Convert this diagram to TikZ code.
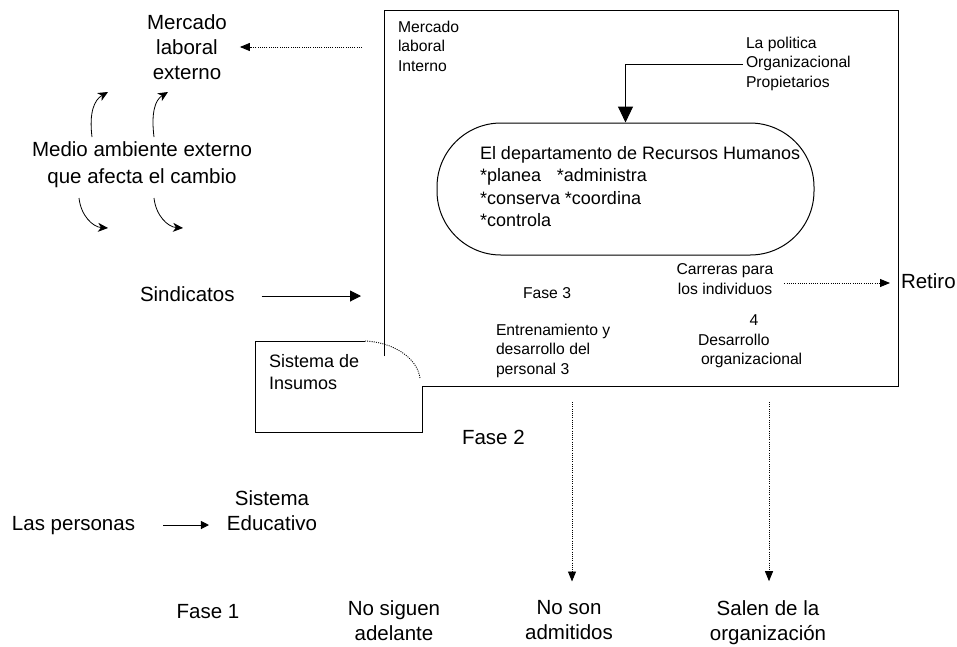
\documentclass[tikz,border=0pt]{standalone}
\usepackage{fontspec}
\setmainfont{Liberation Sans}
\usetikzlibrary{arrows.meta}
\newcommand{\fsBig}{\fontsize{20.5}{25}\selectfont}
\newcommand{\fsMid}{\fontsize{18}{22.5}\selectfont}
\newcommand{\fsSmall}{\fontsize{15.7}{19.5}\selectfont}
\begin{document}
\begin{tikzpicture}[x=1pt,y=-1pt,
  txt/.style={inner sep=0pt, outer sep=0pt},
  bigtxt/.style={txt, font=\fsBig},
  midtxt/.style={txt, font=\fsMid},
  smalltxt/.style={txt, font=\fsSmall},
  frame/.style={line width=1pt},
  dotline/.style={line width=0.9pt, dash pattern=on 1pt off 1.2pt},
  solidarrow/.style={line width=1pt, -{Triangle[length=11pt,width=11pt]}},
  smallarrow/.style={line width=1pt, -{Triangle[length=8pt,width=8pt]}},
  bigarrow/.style={line width=1pt, -{Triangle[length=16pt,width=15pt]}},
  dotarrow/.style={dotline, -{Triangle[length=10pt,width=8pt]}},
  bendarrow/.style={line width=0.8pt, -{Stealth[length=10pt,width=9pt,inset=3pt]}}
]
\useasboundingbox (0,0) rectangle (957,646);
\fill[white] (0,0) rectangle (957,646);

% organisation frame
\draw[frame] (384,356) -- (384,10) -- (898,10) -- (898,386) -- (422,386);

% input system block with its dotted corner
\draw[frame] (365,341) -- (255,341) -- (255,432) -- (422,432) -- (422,386);
\draw[dotline] (365,341) .. controls (392,342) and (417,357) .. (420,378);
\node[midtxt, align=left, anchor=west] (ins) at (269,374) {\strut Sistema de\\Insumos\strut};

% external environment
\node[bigtxt, align=center] (ext) at (187,49) {\strut Mercado\\laboral\\externo\strut};
\node[bigtxt, align=center] (medio) at (142,164) {\fontsize{20.5}{27.5}\selectfont\strut Medio ambiente externo\\que afecta el cambio\strut};
\node[bigtxt, anchor=west] (sind) at (140,296) {\strut Sindicatos};

\coordinate (c1a) at (92,137);  \coordinate (c1b) at (108,92);
\coordinate (c2a) at (154,137); \coordinate (c2b) at (168,92);
\coordinate (c3a) at (79,198);  \coordinate (c3b) at (108,228);
\coordinate (c4a) at (154,198); \coordinate (c4b) at (183,228);
\draw[bendarrow] (c1a) .. controls (89,113) and (94,100) .. (c1b);
\draw[bendarrow] (c2a) .. controls (151,113) and (155,100) .. (c2b);
\draw[bendarrow] (c3a) .. controls (81,216) and (93,227) .. (c3b);
\draw[bendarrow] (c4a) .. controls (156,216) and (168,227) .. (c4b);

% inside the organisation
\node[smalltxt, align=left, anchor=west] (mli) at (398,48) {\strut Mercado\\laboral\\Interno\strut};
\node[smalltxt, align=left, anchor=west] (pol) at (746,64) {\strut La politica\\Organizacional\\Propietarios\strut};
\node[draw, line width=1pt, rounded corners=64pt, minimum width=377pt, minimum height=132pt, inner sep=0pt] (rh) at (625.5,189) {};
\node[midtxt, align=left, anchor=west] (rhtext) at (480,188.5) {\strut El departamento de Recursos Humanos\\\makebox[77pt][l]{*planea}*administra\\\makebox[85pt][l]{*conserva}*coordina\\*controla\strut};
\node[smalltxt, align=center] (car) at (725,281.5) {\fontsize{15.7}{17.5}\selectfont\strut Carreras para\\los individuos\strut};
\node[smalltxt, anchor=west] (fase3) at (523,295) {\strut Fase 3};
\node[smalltxt, align=left, anchor=west] (entr) at (496,351) {\strut Entrenamiento y\\desarrollo del\\personal 3\strut};
\node[smalltxt, align=left, anchor=west] (desa) at (698,341) {\fontsize{15.7}{21}\selectfont\strut\hspace*{51.5pt}4\\Desarrollo\\\hspace*{3pt}organizacional\strut};
\node[bigtxt, anchor=west] (ret) at (901,283) {\strut Retiro};

% phases and outcomes
\node[bigtxt, anchor=west] (fase2) at (462,439) {\strut Fase 2};
\node[bigtxt, anchor=west] (per) at (12,525) {\strut Las personas};
\node[bigtxt, align=center] (edu) at (272,514.5) {\fontsize{20.5}{22}\selectfont\strut Sistema\\Educativo\strut};
\node[bigtxt] (fase1) at (208,613) {\strut Fase 1};
\node[bigtxt, align=center] (nosig) at (394,622.5) {\strut No siguen\\adelante\strut};
\node[bigtxt, align=center] (noson) at (569,621.5) {\strut No son\\admitidos\strut};
\node[bigtxt, align=center] (salen) at (768,623.5) {\fontsize{20.5}{23}\selectfont\strut Salen de la\\organización\strut};

% connectors
\coordinate (extsrc) at (362,47);
\draw[dotarrow] (extsrc) -- ([xshift=13pt]ext.east |- extsrc);
\coordinate (sindin) at (361,296);
\draw[solidarrow] ([xshift=27pt]sind.east) -- (sindin);
\draw[bigarrow] ([xshift=-3pt]pol.west) -| (rh.north);
\draw[dotarrow, shorten <=11pt, shorten >=11pt] (car.east |- ret.west) -- (ret.west);
\draw[smallarrow, shorten <=28pt, shorten >=18pt] (per.east) -- (per.east -| edu.west);
\coordinate (drop1) at (572,402);
\coordinate (drop2) at (769,402);
\draw[dotarrow, shorten >=15pt] (drop1) -- (drop1 |- noson.north);
\draw[dotarrow, shorten >=18pt] (drop2) -- (drop2 |- salen.north);
\end{tikzpicture}
\end{document}
